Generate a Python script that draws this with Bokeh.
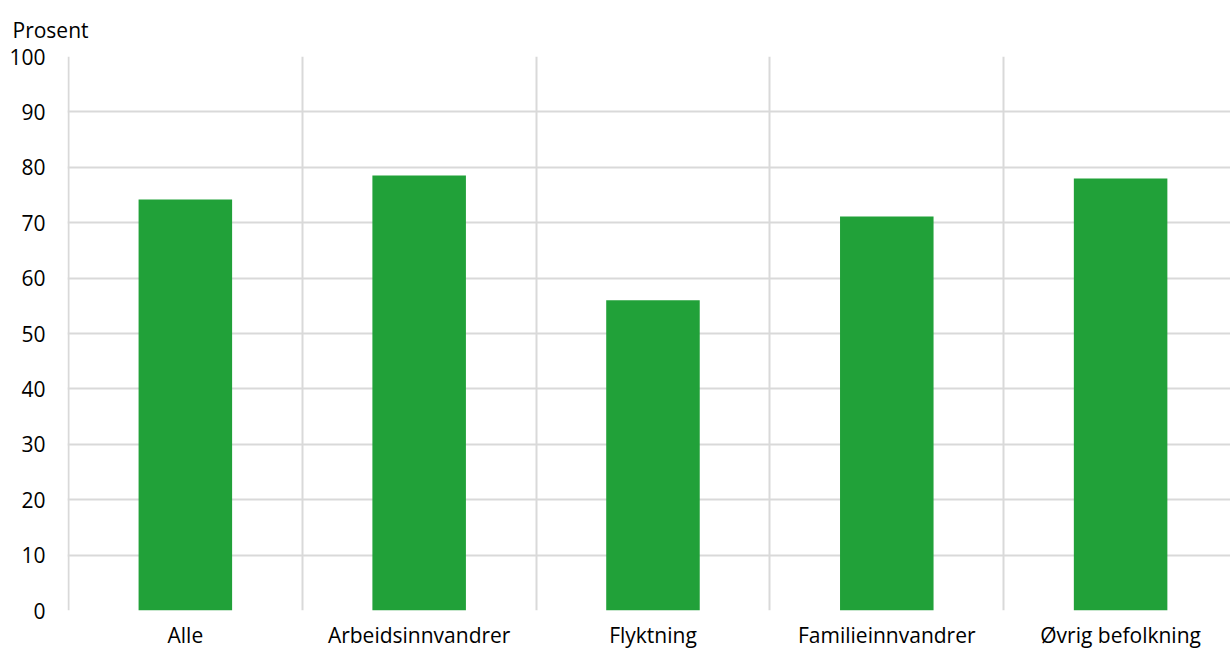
from bokeh.plotting import figure
from bokeh.models import FixedTicker, Range1d
from bokeh.embed import file_html
from bokeh.resources import INLINE

categories = ["Alle", "Arbeidsinnvandrer", "Flyktning", "Familieinnvandrer", "Øvrig befolkning"]
values = [74.2, 78.5, 56.0, 71.1, 78.0]
y_ticks = [0, 10, 20, 30, 40, 50, 60, 70, 80, 90, 100]

xs = [i + 0.5 for i in range(len(categories))]
FONT = "Open Sans"
FS = "21px"

p = figure(width=1230, height=652, output_backend="svg", toolbar_location=None,
           x_range=Range1d(-0.004, 4.97), y_range=Range1d(0, 100),
           min_border_left=67, min_border_top=56, min_border_bottom=42, min_border_right=0,
           title="Prosent")
p.outline_line_color = None
p.background_fill_color = "white"
p.border_fill_color = "white"

p.title.text_font = FONT
p.title.text_font_size = FS
p.title.text_font_style = "normal"
p.title.text_color = "#000000"
p.title.align = "left"
p.title.vertical_align = "bottom"
p.title.offset = -55
p.title.standoff = 25

p.vbar(x=xs, top=values, width=0.4, bottom=0, color="#21a139", line_color=None)

# axes
p.xaxis.ticker = FixedTicker(ticks=xs)
p.xaxis.major_label_overrides = {x: c for x, c in zip(xs, categories)}
p.xaxis.major_tick_line_color = None
p.xaxis.major_tick_out = 0
p.xaxis.major_tick_in = 0
p.xaxis.minor_tick_line_color = None
p.xaxis.axis_line_color = None
p.xaxis.major_label_text_font = FONT
p.xaxis.major_label_text_font_size = FS
p.xaxis.major_label_text_color = "#000000"
p.xaxis.major_label_standoff = 10

p.yaxis.ticker = FixedTicker(ticks=y_ticks)
p.yaxis.major_tick_line_color = None
p.yaxis.major_tick_out = 0
p.yaxis.major_tick_in = 0
p.yaxis.minor_tick_line_color = None
p.yaxis.axis_line_color = None
p.yaxis.major_label_text_font = FONT
p.yaxis.major_label_text_font_size = FS
p.yaxis.major_label_text_color = "#000000"
p.yaxis.major_label_standoff = 22

p.xgrid.ticker = FixedTicker(ticks=[0, 1, 2, 3, 4, 5])
p.xgrid.grid_line_color = "#d9d9d9"
p.xgrid.grid_line_width = 2
p.ygrid.ticker = FixedTicker(ticks=y_ticks)
p.ygrid.grid_line_color = "#d9d9d9"
p.ygrid.grid_line_width = 2

open("out.html", "w").write(file_html(p, INLINE))
